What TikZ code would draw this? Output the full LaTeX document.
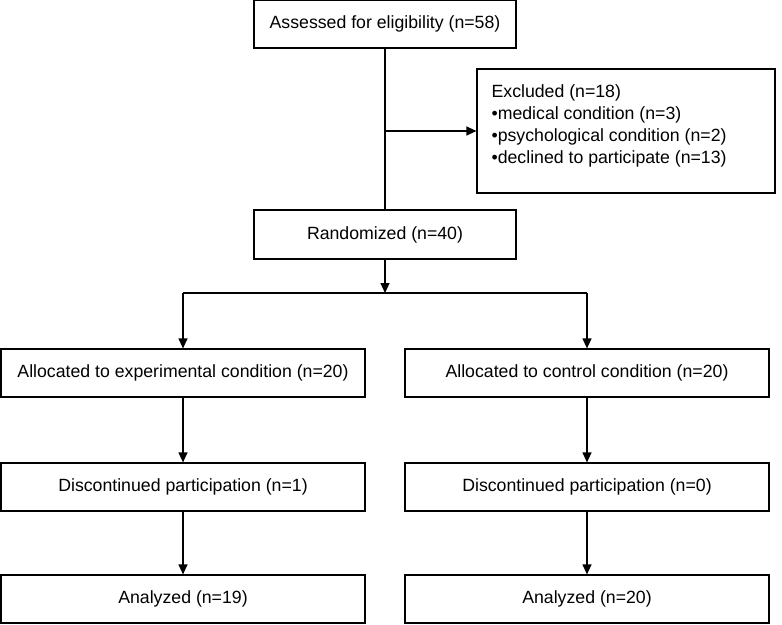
\documentclass[tikz,border=0pt]{standalone}
\usepackage{fontspec}
\setmainfont{Liberation Sans}
\usepackage{tikz}
\usetikzlibrary{arrows.meta}

\tikzset{
  box/.style={draw, line width=1.2bp, inner sep=0pt, align=center},
  arr/.style={-{Triangle[length=10bp,width=9bp]}},
}

\begin{document}
\begin{tikzpicture}[x=1bp, y=-1bp, line width=1.2bp,
    font=\fontsize{17.7bp}{22bp}\selectfont]
\useasboundingbox (0,0) rectangle (782,625);
% enrolment
\node[box, minimum width=262bp, minimum height=48bp] (assess) at (385,24)
      {Assessed for eligibility (n=58)};
\node[box, minimum width=298bp, minimum height=124bp] (excl) at (626,131) {};
\node[anchor=north west, align=left, inner sep=0pt] (excltxt) at (491,84)
      {Excluded (n=18)\\
       \textbullet medical condition (n=3)\\
       \textbullet psychological condition (n=2)\\
       \textbullet declined to participate (n=13)};
\node[box, minimum width=262bp, minimum height=49bp] (rand) at (385,234.5)
      {Randomized (n=40)};
\coordinate (split) at (385,293);
% left arm
\node[box, minimum width=364bp, minimum height=48bp] (lalloc) at (183,373)
      {Allocated to experimental condition (n=20)};
\node[box, minimum width=364bp, minimum height=48bp] (ldisc) at (183,487)
      {Discontinued participation (n=1)};
\node[box, minimum width=364bp, minimum height=48bp] (lanal) at (183,599)
      {Analyzed (n=19)};
% right arm
\node[box, minimum width=364bp, minimum height=48bp] (ralloc) at (587,373)
      {Allocated to control condition (n=20)};
\node[box, minimum width=364bp, minimum height=48bp] (rdisc) at (587,487)
      {Discontinued participation (n=0)};
\node[box, minimum width=364bp, minimum height=48bp] (ranal) at (587,599)
      {Analyzed (n=20)};
% connectors
\draw (assess) -- (rand);
\draw[arr] (assess.south |- excl.west) -- (excl.west);
\draw[arr] (rand) -- (split);
\draw (split -| lalloc) -- (split -| ralloc);
\draw[arr] (split -| lalloc) -- (lalloc);
\draw[arr] (split -| ralloc) -- (ralloc);
\draw[arr] (lalloc) -- (ldisc);
\draw[arr] (ldisc) -- (lanal);
\draw[arr] (ralloc) -- (rdisc);
\draw[arr] (rdisc) -- (ranal);
\end{tikzpicture}
\end{document}
